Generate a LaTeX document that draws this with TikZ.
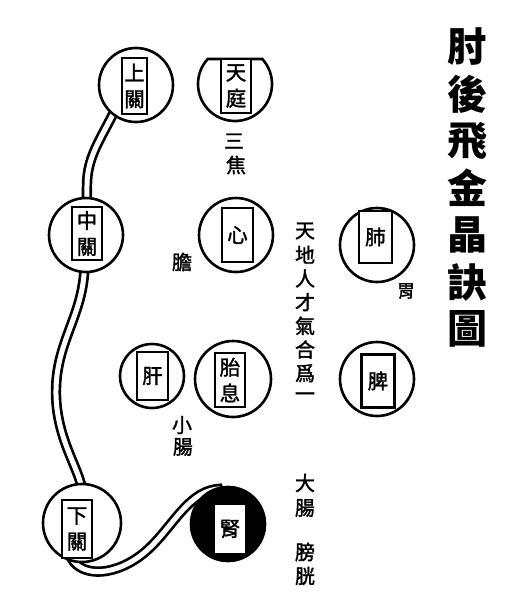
\documentclass[tikz,border=0pt]{standalone}
\usepackage{fontspec}
\newfontfamily\cjk[FakeBold=1.6]{Noto Sans CJK TC}
\newfontfamily\cjkt{Noto Sans CJK TC}
\pgfdeclarelayer{back}
\pgfdeclarelayer{tubes}
\pgfsetlayers{back,tubes,main}
\tikzset{
  ring/.style={circle,draw,line width=2.6pt,fill=white,inner sep=0pt,minimum size=74pt},
  plate/.style={draw,line width=2.2pt,inner sep=0pt,fill=white,align=center,
    font=\cjk\fontsize{20.5}{26}\selectfont},
  lbl/.style={inner sep=0pt,font=\cjk\fontsize{20}{20}\selectfont},
  ttl/.style={inner sep=0pt,font=\cjkt\bfseries\fontsize{40}{40}\selectfont},
  tube/.style={line width=2.7pt,double=white,double distance=5pt}
}
\begin{document}
\begin{tikzpicture}[x=1pt,y=-1pt]
\useasboundingbox (0,0) rectangle (517,600);
\begin{pgfonlayer}{back}
\fill[white] (0,0) rectangle (517,600);
\end{pgfonlayer}

% circles
\node[ring] (sg) at (136,85) {};
\node[ring] (zg) at (86,235) {};
\node[ring] (xin) at (236,235) {};
\node[ring] (fei) at (377,245) {};
\node[ring,minimum size=64pt] (gan) at (152,376) {};
\node[ring,minimum size=76pt] (tx) at (233,379) {};
\node[ring] (pi) at (377,379) {};
\node[ring,minimum size=78pt] (xg) at (82,523) {};
\node[ring,fill=black] (shen) at (228,524) {};
% Tian ting: circle with flat top
\coordinate (tt) at (235,84);
\draw[line width=2.6pt,fill=white] (tt) ++(-42.5:37) arc[start angle=-42.5,end angle=222.5,radius=37] -- cycle;

% plates
\node[plate,minimum width=25pt,minimum height=56pt,line width=2.8pt] (sgp) at (134.5,86) {上\\關};
\node[plate,minimum width=30pt,minimum height=54pt] (ttp) at (236,86) {天\\庭};
\node[plate,minimum width=30pt,minimum height=53pt,line width=2.8pt] (zgp) at (87,233.5) {中\\關};
\node[plate,minimum width=31pt,minimum height=54pt] (xinp) at (237.5,235) {心};
\node[plate,minimum width=33pt,minimum height=52pt] (feip) at (375.5,237) {肺};
\node[plate,minimum width=31pt,minimum height=48pt] (ganp) at (152.5,376) {肝};
\node[plate,minimum width=30pt,minimum height=54pt,line width=2.8pt] (txp) at (230,380) {胎\\息};
\node[plate,minimum width=33pt,minimum height=53pt] (pip) at (378,381) {脾};
\node[plate,minimum width=30pt,minimum height=58pt,line width=2.8pt] (xgp) at (77,529) {下\\關};
\node[plate,draw=none,minimum width=30pt,minimum height=48pt] (shenp) at (230,529) {腎};

% tubes
\begin{pgfonlayer}{tubes}
\draw[tube] (sg.center) -- (sg.-128) .. controls (100,140) and (87,158) .. (87,185) -- (zg.center);
\draw[tube] (zg.center) -- (84,275) .. controls (80,320) and (55,345) .. (56,395)
  .. controls (57,440) and (80,470) .. (82,490) -- (xg.center);
\draw[tube] (xg.center) -- (70,555) .. controls (78,576) and (110,578) .. (140,556)
  .. controls (170,534) and (185,492) .. (218,489) -- (shen.center);
\end{pgfonlayer}

% side labels
\node[lbl] (san) at (234,141) {三};
\node[lbl] (jiao) at (236,165) {焦};
\node[lbl] (dan) at (182,262) {膽};
\node[lbl,font=\cjk\fontsize{18}{18}\selectfont] (wei) at (406,291) {胃};
\node[lbl] (xiao) at (182,425) {小};
\node[lbl] (chang1) at (183,447) {腸};
\node[lbl] (da) at (305,483) {大};
\node[lbl] (chang2) at (305,508) {腸};
\node[lbl] (pang) at (305,552) {膀};
\node[lbl] (guang) at (305,576) {胱};

% vertical phrase
\foreach \c [count=\i] in {天,地,人,才,氣,合,爲,一}
  \node[lbl] (v\i) at (305,{207.3+23.7*\i}) {\c};

% title
\foreach \c [count=\i] in {肘,後,飛,金,晶,訣,圖}
  \node[ttl] (t\i) at (467,{47*\i}) {\c};
\end{tikzpicture}
\end{document}
